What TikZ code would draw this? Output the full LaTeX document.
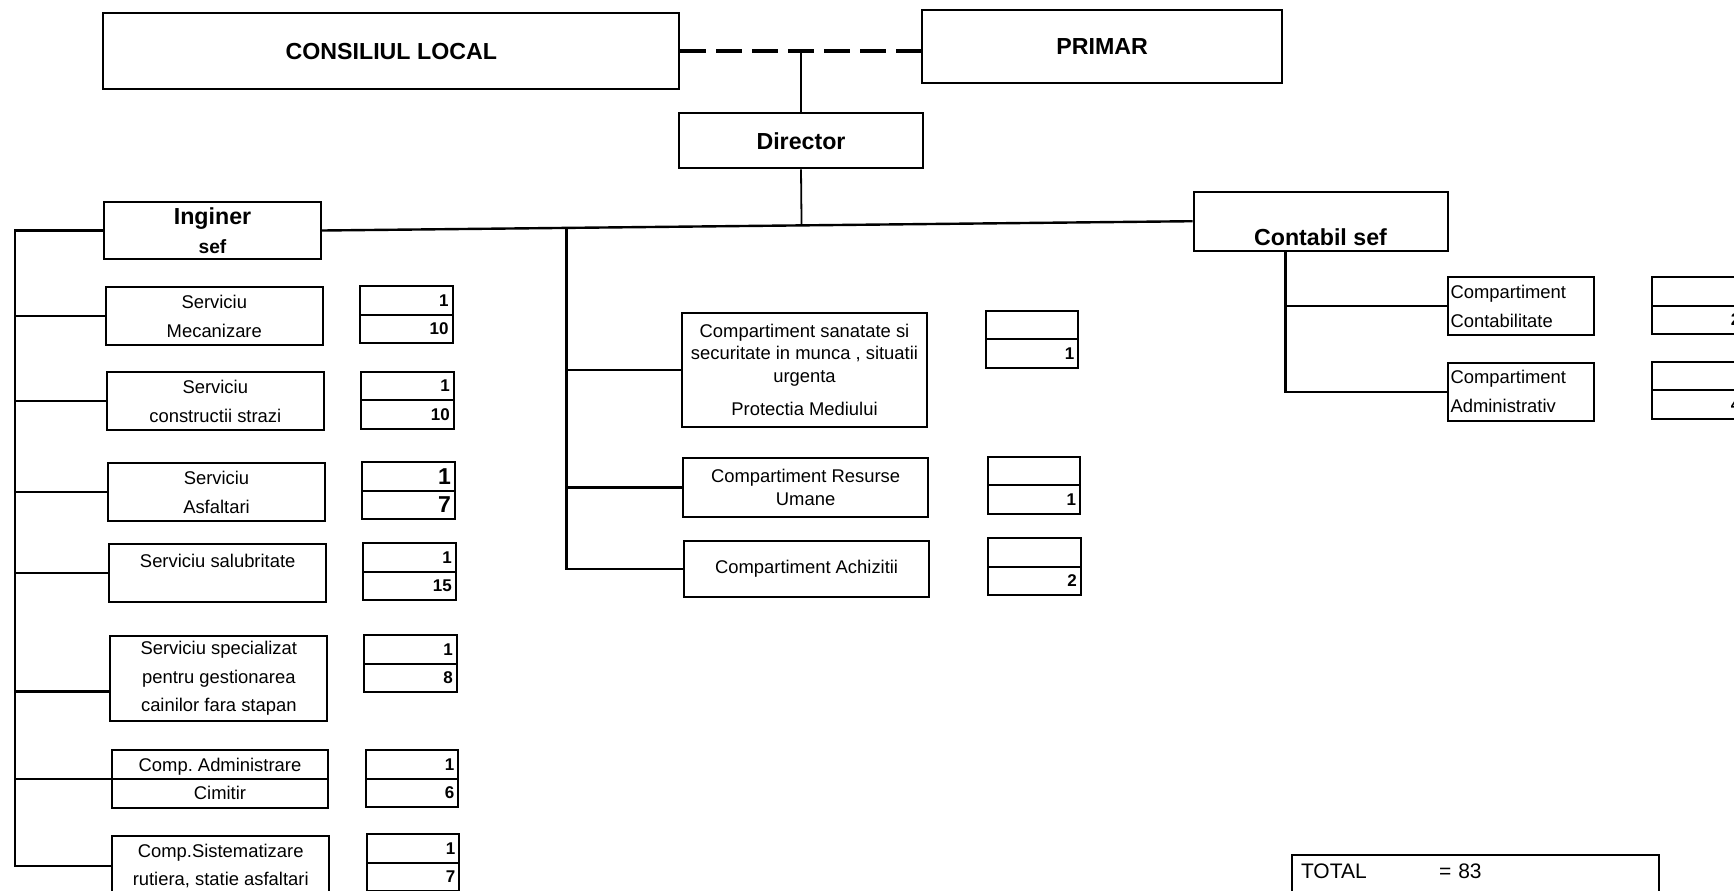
\documentclass[tikz,border=0pt]{standalone}
\usepackage{fontspec}
\setmainfont{Liberation Sans}
\usetikzlibrary{positioning,calc}
\frenchspacing

\begin{document}
\begin{tikzpicture}[x=0.5pt,y=-0.5pt]
    % Define styles
    \tikzstyle{head} = [rectangle, draw, line width=1pt, inner sep=1pt, align=center, font=\bfseries\fontsize{11.6}{14.65}\selectfont]
    \tikzstyle{unit} = [rectangle, draw, line width=1pt, inner sep=1pt, align=center, font=\fontsize{9.2}{14.5}\selectfont, minimum width=108.4pt, minimum height=28.8pt]
    \tikzstyle{cell} = [rectangle, draw, line width=1pt, outer sep=0pt, anchor=north west, minimum width=46.3pt, minimum height=14.25pt, text width=42.3pt, inner xsep=2pt, inner ysep=0pt, align=right, font=\bfseries\fontsize{8.5}{10}\selectfont]
    \tikzstyle{bigcell} = [cell, font=\bfseries\fontsize{11.5}{12}\selectfont]
    \tikzstyle{link} = [line width=1.2pt]
    \tikzstyle{thin} = [line width=0.9pt]

    \useasboundingbox (0,0) rectangle (1734,890);

    % Top level
    \node[head, minimum width=288pt, minimum height=38pt] (consiliu) at (391.3,51.3) {CONSILIUL LOCAL};
    \node[head, minimum width=180pt, minimum height=36.7pt] (primar) at (1102.2,46.7) {PRIMAR};
    \node[head, minimum width=121.8pt, minimum height=27.5pt] (director) at (801,140.8) {Director};
    \node[head, minimum width=108.5pt, minimum height=28.8pt] (inginer) at (212.5,230.5) {Inginer\\{\fontsize{9.6}{14.65}\selectfont sef}};
    \node[head, minimum width=127pt, minimum height=29.5pt, text height=25.7pt, text depth=1.8pt] (contabil) at (1320.5,221.2) {Contabil sef};

    % Services under Inginer sef
    \node[unit] (mecanizare) at (214.3,316.2) {Serviciu\\Mecanizare};
    \node[unit] (strazi) at (215.3,401.2) {Serviciu\\constructii strazi};
    \node[unit] (asfalt) at (216.5,492) {Serviciu\\Asfaltari};
    \node[unit, text height=10.65pt, text depth=16.2pt] (salubr) at (217.7,572.9) {Serviciu salubritate};
    \node[unit, minimum height=42.3pt, font=\fontsize{9.2}{14.35}\selectfont] (caini) at (218.8,678.4) {Serviciu specializat\\pentru gestionarea\\cainilor fara stapan};
    \node[unit, font=\fontsize{9.2}{14.2}\selectfont] (cimitir) at (220,778.9) {Comp. Administrare\\Cimitir};
    \node[unit, minimum height=30pt, font=\fontsize{9.2}{13.8}\selectfont] (rutier) at (220.7,866) {Comp.Sistematizare\\rutiera, statie asfaltari};
    \draw[line width=1pt] (cimitir.west) -- (cimitir.east);

    % Compartments under Director
    \node[unit, minimum width=122.3pt, minimum height=57pt, font=\fontsize{9.2}{11.25}\selectfont] (sanatate) at (804.5,369.7) {Compartiment sanatate si\\securitate in munca , situatii\\urgenta\\[5.4pt]Protectia Mediului};
    \node[unit, minimum width=122.7pt, minimum height=29.2pt, font=\fontsize{9.2}{11.7}\selectfont] (resurse) at (805.6,487.5) {Compartiment Resurse\\Umane};
    \node[unit, minimum width=122.7pt, minimum height=28.3pt] (achizitii) at (806.6,569) {Compartiment Achizitii};

    % Compartments under Contabil sef
    \node[unit, align=left, minimum width=73.3pt, text width=70.3pt, inner xsep=1.5pt] (contab) at (1520.8,306.2) {Compartiment\\Contabilitate};
    \node[unit, align=left, minimum width=73.3pt, minimum height=29pt, text width=70.3pt, inner xsep=1.5pt] (admin) at (1520.8,391.7) {Compartiment\\Administrativ};

    % Staff numbers
    \node[cell] (mec1) at (360,286) {1};
    \node[cell, below=0pt of mec1] (mec2) {10};
    \node[cell] (str1) at (361.3,371.7) {1};
    \node[cell, below=0pt of str1] (str2) {10};
    \node[bigcell] (asf1) at (362.3,462) {1};
    \node[bigcell, below=0pt of asf1] (asf2) {7};
    \node[cell] (sal1) at (363.3,543.3) {1};
    \node[cell, below=0pt of sal1] (sal2) {15};
    \node[cell] (cai1) at (364.3,635) {1};
    \node[cell, below=0pt of cai1] (cai2) {8};
    \node[cell] (cim1) at (365.7,750) {1};
    \node[cell, below=0pt of cim1] (cim2) {6};
    \node[cell] (rut1) at (366.7,834.3) {1};
    \node[cell, below=0pt of rut1] (rut2) {7};
    \node[cell] (san1) at (985.7,310.7) {};
    \node[cell, below=0pt of san1] (san2) {1};
    \node[cell] (res1) at (987.5,456.7) {};
    \node[cell, below=0pt of res1] (res2) {1};
    \node[cell] (ach1) at (988.2,538.3) {};
    \node[cell, below=0pt of ach1] (ach2) {2};
    \node[cell] (ctb1) at (1651.7,277.3) {};
    \node[cell, below=0pt of ctb1] (ctb2) {2};
    \node[cell] (adm1) at (1651.7,361.7) {};
    \node[cell, below=0pt of adm1] (adm2) {4};

    \node[rectangle, draw, line width=1pt, anchor=north west, minimum width=183.7pt, text width=174.7pt, inner xsep=4.5pt, inner ysep=1pt, text height=10.6pt, text depth=20pt, align=left, font=\fontsize{10.5}{12}\selectfont] (total) at (1291,854.3) {\makebox[69pt][l]{TOTAL}= 83};

    % Lines
    \draw[line width=2pt, dash pattern=on 13pt off 5pt] (consiliu.east) -- (consiliu.east -| primar.west);
    \draw[thin] (director.north) -- (director.north |- consiliu.east);
    \draw[link] (inginer.east) -- (contabil.west);
    \coordinate (busdir) at ($(inginer.east)!(director.south)!(contabil.west)$);
    \draw[thin] (director.south) -- (busdir);

    \coordinate (leftx) at (15,0);
    \draw[link] (inginer.west) -- (inginer.west -| leftx) -- (rutier.west -| leftx) -- (rutier.west);
    \draw[link] (mecanizare.west) -- (mecanizare.west -| leftx);
    \draw[link] (strazi.west) -- (strazi.west -| leftx);
    \draw[link] (asfalt.west) -- (asfalt.west -| leftx);
    \draw[link] (salubr.west) -- (salubr.west -| leftx);
    \draw[link] ([yshift=-6.6pt]caini.west) -- ([yshift=-6.6pt]caini.west -| leftx);
    \draw[link] (cimitir.west) -- (cimitir.west -| leftx);

    \coordinate (midx) at (564,0);
    \coordinate (midtop) at ($(inginer.east)!(midx)!(contabil.west)$);
    \draw[link] (midtop) -- (achizitii.west -| midtop) -- (achizitii.west);
    \draw[link] (sanatate.west) -- (sanatate.west -| midtop);
    \draw[link] (resurse.west) -- (resurse.west -| midtop);

    \coordinate (rightx) at (1285.3,0);
    \draw[link] (contabil.south -| rightx) -- (admin.west -| rightx) -- (admin.west);
    \draw[link] (contab.west) -- (contab.west -| rightx);
\end{tikzpicture}
\end{document}
